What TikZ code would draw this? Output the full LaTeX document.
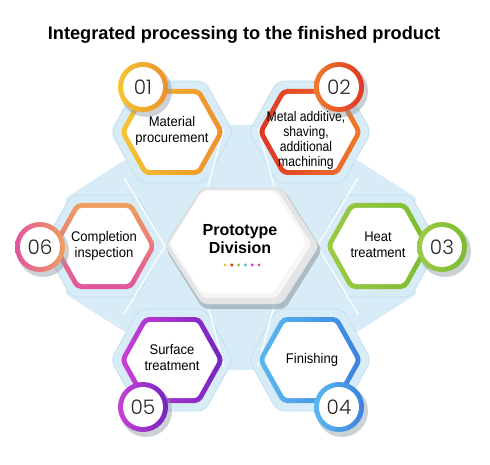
\documentclass[tikz,border=0pt]{standalone}
\usepackage{fontspec}
\setmainfont{Liberation Sans}
\newfontfamily\numfont{Poppins}[UprightFont={* Light}]
\newfontfamily\condfont[FakeStretch=0.93]{Liberation Sans}
\newfontfamily\narrowfont[FakeStretch=0.87]{Liberation Sans}
\definecolor{bgblue}{HTML}{D7ECF7}
\definecolor{haloedge}{HTML}{C4DFEE}
\definecolor{cYa}{HTML}{F5C531}\definecolor{cYb}{HTML}{EF8F2B}
\definecolor{cRa}{HTML}{DF3524}\definecolor{cRb}{HTML}{EF7B2D}
\definecolor{cGa}{HTML}{9BCB45}\definecolor{cGb}{HTML}{7DBB31}
\definecolor{cBa}{HTML}{5CB8EF}\definecolor{cBb}{HTML}{3B82DF}
\definecolor{cPa}{HTML}{C840D6}\definecolor{cPb}{HTML}{7524C0}
\definecolor{cKa}{HTML}{EFA05C}\definecolor{cKb}{HTML}{E1549F}
\newcommand\hexshape[5]{({#1-#3},{#2}) -- ({#1-#4},{#2-#5}) -- ({#1+#4},{#2-#5}) -- ({#1+#3},{#2}) -- ({#1+#4},{#2+#5}) -- ({#1-#4},{#2+#5}) -- cycle}
\tikzset{
  halo/.style={fill=bgblue, draw=haloedge, line width=0.8pt, rounded corners=7pt},
  divider/.style={draw=white, line width=1.6pt, opacity=0.85},
  lbl/.style={align=center, inner sep=0pt, font=\condfont\fontsize{14}{16}\selectfont},
  numlbl/.style={inner sep=0pt, font=\numfont\fontsize{20}{20}\selectfont, text=black!85},
  cshadow/.style={fill=black!35!bgblue, opacity=0.45},
}
\newcommand\outerhex[4]{%
  \shade[left color=#3, right color=#4, rounded corners=5pt] \hexshape{#1}{#2}{52}{28}{43};
  \fill[white, rounded corners=3pt] \hexshape{#1}{#2}{46.3}{25.1}{38};}
\newcommand\numcircle[4]{%
  \fill[cshadow] ({#1+3},{#2+4}) circle (26pt);
  \shade[left color=#3, right color=#4] (#1,#2) circle (25pt);
  \fill[white] (#1,#2) circle (20pt);}
\begin{document}
\begin{tikzpicture}[x=1pt,y=-1pt]
\useasboundingbox (0,0) rectangle (490,465);
\fill[white] (0,0) rectangle (490,465);
% title
\node[font=\bfseries\fontsize{18.2}{20}\selectfont, inner sep=0pt] (title) at (244,35) {Integrated processing to the finished product};
% light blue background field
\fill[bgblue, rounded corners=4pt] (172,132) -- (225,125) -- (257,125) -- (310,132) -- (365,165) -- (418,199) -- (378,246) -- (418,293) -- (365,327) -- (310,360) -- (257,370) -- (225,370) -- (172,360) -- (117,327) -- (64,293) -- (104,246) -- (64,199) -- (117,165) -- cycle;
% halos
\foreach \cx/\cy in {172/132, 310/132, 378/246, 310/360, 172/360, 104/246}
  \filldraw[halo] \hexshape{\cx}{\cy}{61.2}{32.7}{51};
% dividers of the field
\draw[divider] (165,246) -- (124,178);
\draw[divider] (165,246) -- (124,314);
\draw[divider] (317,246) -- (358,178);
\draw[divider] (317,246) -- (358,314);
\draw[divider] (208,186) -- (224,128);
\draw[divider] (274,186) -- (258,128);
\draw[divider] (208,306) -- (224,366);
\draw[divider] (274,306) -- (258,366);
% central hexagon
\fill[black!40!bgblue, opacity=0.5, rounded corners=5pt] \hexshape{244}{250}{78}{41}{59};
\filldraw[fill=black!10, draw=black!18, rounded corners=5pt] \hexshape{242}{246}{77}{40}{58};
\filldraw[fill=black!3, draw=black!12, rounded corners=4pt] \hexshape{240}{244}{72}{37.5}{54};
\fill[white, rounded corners=4pt] \hexshape{238}{242}{68}{35.5}{51};
\node[font=\bfseries\fontsize{16}{18}\selectfont, align=center, inner sep=0pt] (center) at (240,239) {Prototype\\Division};
\foreach \i/\c in {0/cYa, 1/cRa, 2/cGa, 3/cBa, 4/cPa, 5/cKb}
  \fill[\c] ({225+6.8*\i},265) circle (1.7pt);
% outer hexagons
\outerhex{172}{132}{cYa}{cYb}
\outerhex{310}{132}{cRa}{cRb}
\outerhex{378}{246}{cGa}{cGb}
\outerhex{310}{360}{cBa}{cBb}
\outerhex{172}{360}{cPa}{cPb}
\shade[top color=cKa, bottom color=cKb, rounded corners=5pt] \hexshape{104}{246}{52}{28}{43};
\fill[white, rounded corners=3pt] \hexshape{104}{246}{46.3}{25.1}{38};
% number circles
\numcircle{143}{87}{cYa}{cYb}
\numcircle{339}{87}{cRb}{cRa}
\numcircle{442}{247}{cGa}{cGb}
\numcircle{339}{407}{cBa}{cBb}
\numcircle{143}{407}{cPa}{cPb}
\numcircle{40}{247}{cKb}{cKa}
\node[numlbl] (n1) at (143,87) {01};
\node[numlbl] (n2) at (339,87) {02};
\node[numlbl] (n3) at (442,247) {03};
\node[numlbl] (n4) at (339,407) {04};
\node[numlbl] (n5) at (143,407) {05};
\node[numlbl] (n6) at (40,247) {06};
% labels
\node[lbl] (t1) at (172,131) {Material\\procurement};
\node[lbl, font=\narrowfont\fontsize{14}{15}\selectfont] (t2) at (306,140) {Metal additive,\\shaving,\\additional\\machining};
\node[lbl] (t3) at (378,245) {Heat\\treatment};
\node[lbl] (t4) at (312,360) {Finishing};
\node[lbl] (t5) at (172,358) {Surface\\treatment};
\node[lbl] (t6) at (104,246) {Completion\\inspection};
\end{tikzpicture}
\end{document}
